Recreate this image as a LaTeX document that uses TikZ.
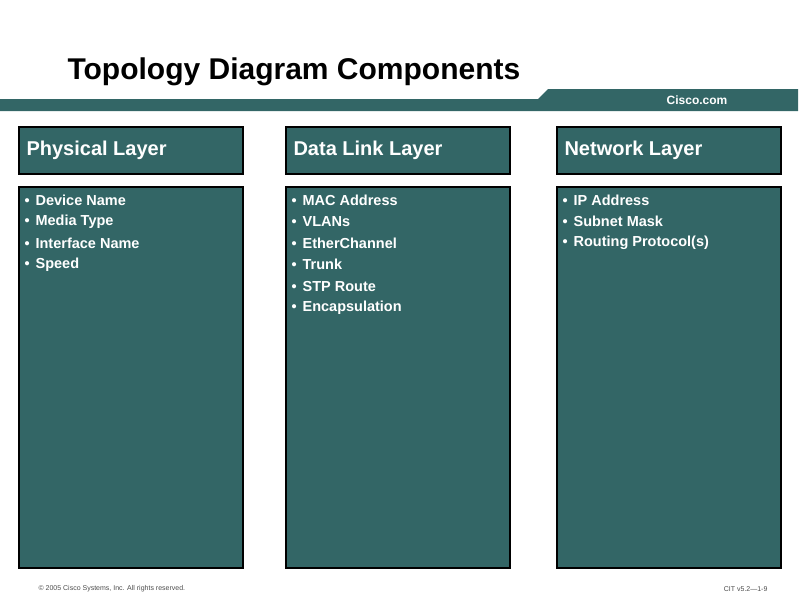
\documentclass[tikz,border=0pt]{standalone}
\usepackage{fontspec}
\setmainfont{Liberation Sans}
\definecolor{teal}{HTML}{336666}
\tikzset{
  head/.style={draw=black, line width=2pt, fill=teal},
  body/.style={draw=black, line width=2pt, fill=teal},
  headtext/.style={anchor=west, text=white, font=\fontsize{20}{24}\selectfont\bfseries},
  item/.style={anchor=west, text=white, font=\fontsize{14.5}{17}\selectfont\bfseries},
  foot/.style={font=\fontsize{7}{8}\selectfont, text=black!70}
}
\newcommand\layer[4]{%
  \draw[head] (#1,127) rectangle (#1+224,174);
  \node[headtext] (#2) at (#1+4,150) {#3};
  \draw[body] (#1,187) rectangle (#1+224,568);
  \foreach \t [count=\i] in {#4}
    \node[item] (#2-\i) at (#1+2,200+21.6*\i-21.6) {\textbullet\hspace{6pt}\t};
}
\begin{document}
\begin{tikzpicture}[x=1pt, y=-1pt]
\useasboundingbox (0,0) rectangle (800,600);
\node[anchor=west, font=\fontsize{30}{34}\selectfont\bfseries] (title) at (64,72) {Topology Diagram Components};
\fill[teal] (0,99) -- (538,99) -- (548,89) -- (798,89) -- (798,111) -- (0,111) -- cycle;
\node[text=white, font=\fontsize{12}{14}\selectfont\bfseries] (cisco) at (697,100) {Cisco.com};
\layer{19}{phys}{Physical Layer}{Device Name,Media Type,Interface Name,Speed}
\layer{286}{link}{Data Link Layer}{MAC Address,VLANs,EtherChannel,Trunk,STP Route,Encapsulation}
\layer{557}{net}{Network Layer}{IP Address,Subnet Mask,Routing Protocol(s)}
\node[foot, anchor=west] (copy) at (35,589) {© 2005 Cisco Systems, Inc. All rights reserved.};
\node[foot, anchor=east] (page) at (771,589) {CIT v5.2—1-9};
\end{tikzpicture}
\end{document}
